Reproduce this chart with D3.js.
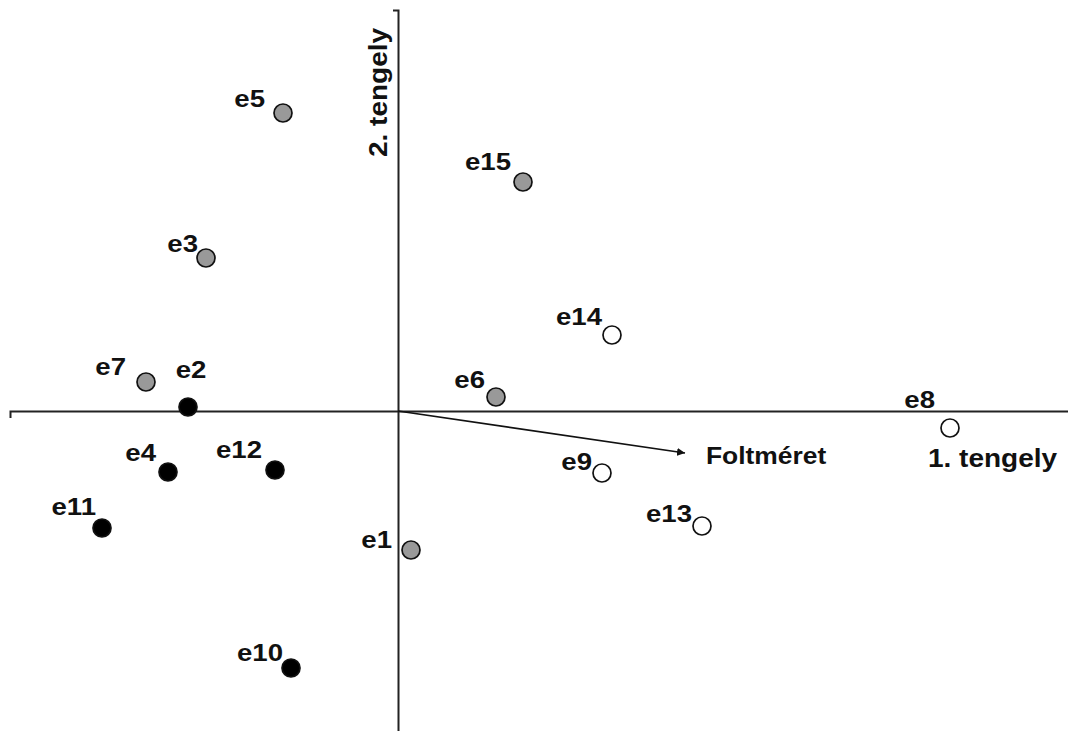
<!DOCTYPE html>
<html>
<head>
<meta charset="utf-8">
<script src="https://cdn.jsdelivr.net/npm/d3@7"></script>
<style>
  html, body { margin: 0; padding: 0; background: #fff; }
  svg { display: block; }
  text { font-family: "Liberation Sans", Arial, sans-serif; font-weight: bold; fill: #111; }
</style>
</head>
<body>
<svg id="chart" width="1068" height="731"></svg>
<script>
// Sample scores on the first two ordination axes
const sites  = ["e1", "e2", "e3", "e4", "e5", "e6", "e7", "e8", "e9", "e10", "e11", "e12", "e13", "e14", "e15"];
const axis1  = [0.13, -2.10, -1.92, -2.30, -1.15, 0.98, -2.52, 5.52, 2.04, -1.07, -2.96, -1.23, 3.04, 2.14, 1.25];
const axis2  = [-1.39, 0.04, 1.53, -0.61, 2.98, 0.14, 0.29, -0.17, -0.62, -2.57, -1.17, -0.59, -1.15, 0.76, 2.29];
const groups = ["B", "A", "B", "A", "B", "B", "B", "C", "C", "A", "A", "A", "C", "C", "B"];

// Environmental vector (patch size)
const vectorName = "Foltméret";
const vectorEnd  = [2.87, -0.42];

// Axis titles
const axisTitles = ["1. tengely", "2. tengely"];

// Label placement relative to each point (dx, dy, anchor)
const labelDx     = [-19, 3, -8, -12, -18, -11, -20, -15, -10, -8, -6, -13, -10, -10, -12];
const labelDy     = [-2, -29, -6, -11, -6, -9, -7, -20, -3, -7, -13, -12, -4, -10, -12];
const labelAnchor = ["end", "middle", "end", "end", "end", "end", "end", "end", "end", "end", "end", "end", "end", "end", "end"];

const groupFill = d3.scaleOrdinal().domain(["A", "B", "C"]).range(["#000000", "#999999", "#ffffff"]);

const svg = d3.select("#chart");

const x = d3.scaleLinear().domain([-3.88, 6.77]).range([10, 1075]);
const y = d3.scaleLinear().domain([4.01, -3.30]).range([10, 741]);

// Axes through the origin, without tick marks
svg.append("g")
  .attr("transform", `translate(0,${y(0)})`)
  .call(d3.axisBottom(x).tickValues([]).tickSizeOuter(7))
  .call(g => g.select(".domain").attr("stroke", "#222").attr("stroke-width", 2));

svg.append("g")
  .attr("transform", `translate(${x(0)},0)`)
  .call(d3.axisLeft(y).tickValues([]).tickSizeOuter(5))
  .call(g => g.select(".domain").attr("stroke", "#222").attr("stroke-width", 2));

// Vector arrow
svg.append("defs").append("marker")
  .attr("id", "arrowhead")
  .attr("viewBox", "0 0 10 10")
  .attr("refX", 10).attr("refY", 5)
  .attr("markerWidth", 5).attr("markerHeight", 5)
  .attr("markerUnits", "strokeWidth")
  .attr("orient", "auto")
  .append("path")
  .attr("d", "M0,0L10,5L0,10Z")
  .attr("fill", "#111");

svg.append("line")
  .attr("x1", x(0)).attr("y1", y(0))
  .attr("x2", x(vectorEnd[0])).attr("y2", y(vectorEnd[1]))
  .attr("stroke", "#111").attr("stroke-width", 1.6)
  .attr("marker-end", "url(#arrowhead)");

svg.append("text")
  .attr("transform", `translate(${x(vectorEnd[0]) + 21},${y(vectorEnd[1]) + 11}) scale(1.1,1)`)
  .attr("font-size", 24)
  .text(vectorName);

// Axis titles
svg.append("text")
  .attr("transform", `translate(${x(5.30)},${y(-0.557)}) scale(1.12,1)`)
  .attr("font-size", 25)
  .text(axisTitles[0]);

svg.append("text")
  .attr("transform", `translate(${x(0) - 11},${y(2.54)}) rotate(-90) scale(1.12,1)`)
  .attr("font-size", 25)
  .text(axisTitles[1]);

// Sample points
const pts = sites.map((s, i) => ({ s, a: axis1[i], b: axis2[i], g: groups[i], i }));

svg.append("g").selectAll("circle")
  .data(pts)
  .join("circle")
  .attr("cx", d => x(d.a))
  .attr("cy", d => y(d.b))
  .attr("r", 9)
  .attr("fill", d => groupFill(d.g))
  .attr("stroke", "#111")
  .attr("stroke-width", 1.7);

svg.append("g").selectAll("text")
  .data(pts)
  .join("text")
  .attr("transform", d => `translate(${x(d.a) + labelDx[d.i]},${y(d.b) + labelDy[d.i]}) scale(1.15,1)`)
  .attr("text-anchor", d => labelAnchor[d.i])
  .attr("font-size", 24)
  .text(d => d.s);
</script>
</body>
</html>
